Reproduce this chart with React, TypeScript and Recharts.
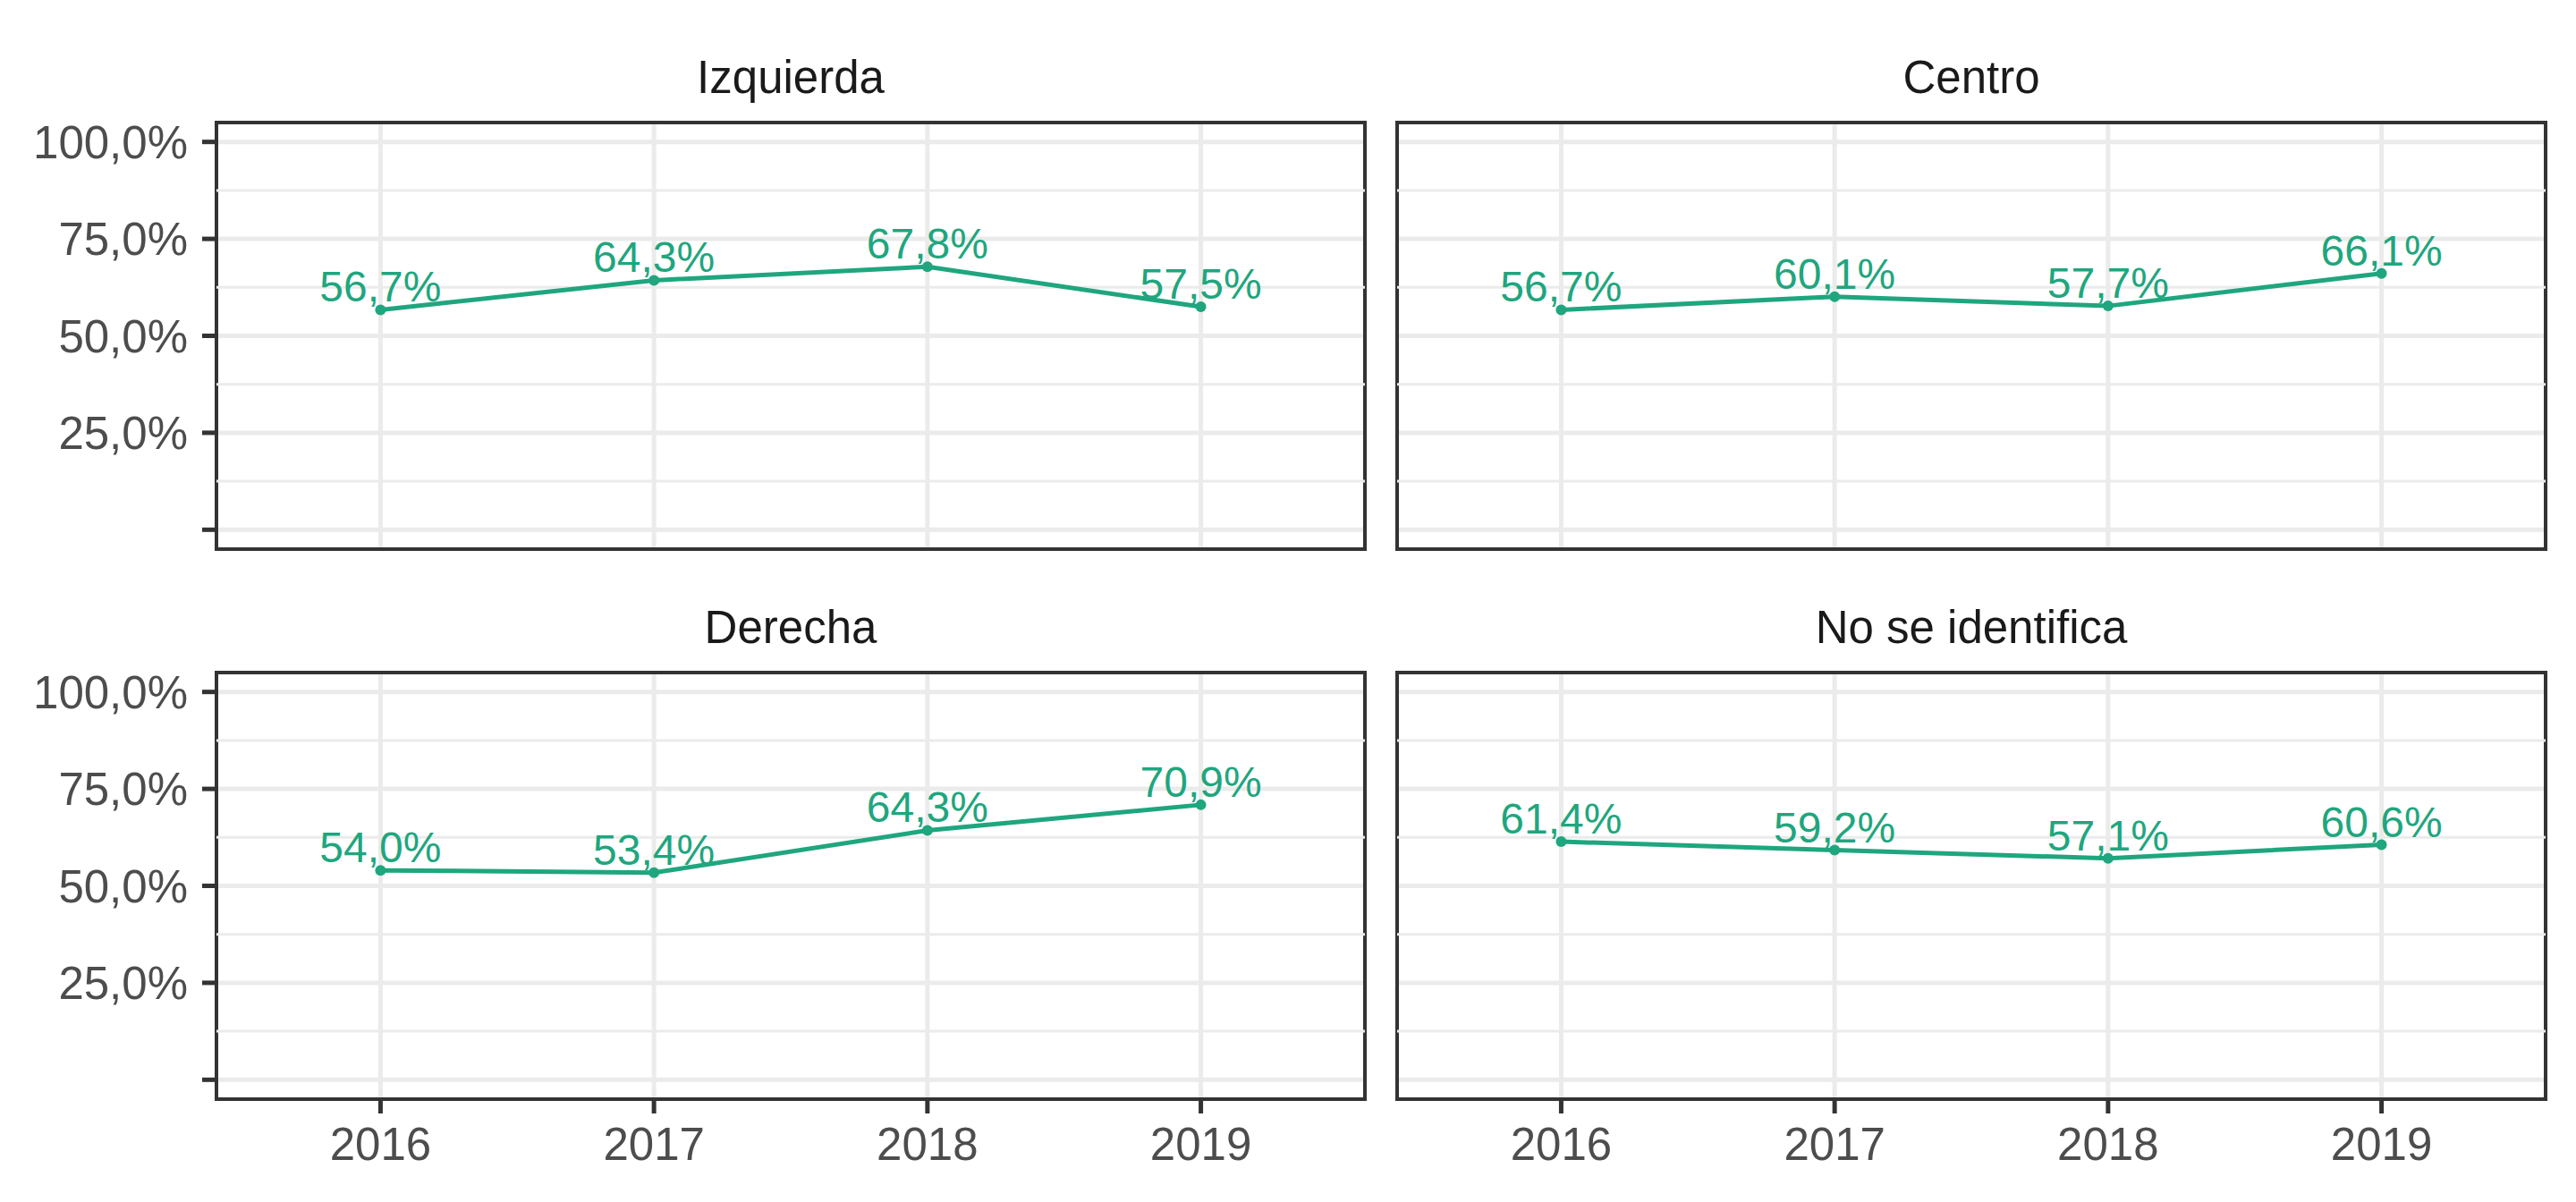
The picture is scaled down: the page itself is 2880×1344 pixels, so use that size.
import React from 'react';
import { LineChart, Line, XAxis, YAxis, CartesianGrid, ReferenceLine, ReferenceArea, LabelList } from 'recharts';

// Datos por panel (porcentaje por año)
const YEARS = [2016, 2017, 2018, 2019];
const IZQUIERDA = [56.7, 64.3, 67.8, 57.5];
const CENTRO = [56.7, 60.1, 57.7, 66.1];
const DERECHA = [54.0, 53.4, 64.3, 70.9];
const NO_SE_IDENTIFICA = [61.4, 59.2, 57.1, 60.6];

const Y_TICKS = [0, 25, 50, 75, 100];
const Y_MINOR = [12.5, 37.5, 62.5, 87.5];

const GREEN = '#1FA67E';
const GRID = '#EBEBEB';
const DARK = '#333333';
const FONT = '"Liberation Sans", Arial, sans-serif';

const PANEL_W = 1284;
const PANEL_H = 477;
const PAD_L = 240;
const PAD_T = 20;
const PAD_R = 20;
const PAD_B = 100;

const fmtPct = (v: number) => `${v.toFixed(1).replace('.', ',')}%`;

interface PanelProps {
  title: string;
  values: number[];
  left: number;
  top: number;
  showX: boolean;
  showY: boolean;
}

const Panel: React.FC<PanelProps> = ({ title, values, left, top, showX, showY }) => {
  const data = YEARS.map((year, i) => ({ year, value: values[i] }));

  return (
    <>
      <div
        style={{
          position: 'absolute',
          left,
          top: top - 76,
          width: PANEL_W,
          textAlign: 'center',
          fontFamily: FONT,
          fontSize: 51,
          lineHeight: '51px',
          color: '#1A1A1A',
        }}
      >
        {title}
      </div>
      <div style={{ position: 'absolute', left: left - PAD_L, top: top - PAD_T }}>
        <LineChart
          width={PANEL_W + PAD_L + PAD_R}
          height={PANEL_H + PAD_T + PAD_B}
          data={data}
          margin={{ top: PAD_T, right: PAD_R, left: showY ? 0 : PAD_L, bottom: showX ? 0 : PAD_B }}
        >
          <CartesianGrid
            stroke={GRID}
            strokeWidth={5}
            horizontalValues={Y_TICKS}
            verticalValues={YEARS}
          />
          {Y_MINOR.map((y) => (
            <ReferenceLine key={y} y={y} stroke={GRID} strokeWidth={3} />
          ))}
          <XAxis
            dataKey="year"
            type="number"
            domain={[2015.4, 2019.6]}
            ticks={YEARS}
            allowDataOverflow
            hide={!showX}
            height={PAD_B}
            axisLine={false}
            tickLine={{ stroke: DARK, strokeWidth: 5 }}
            tickSize={16}
            tickMargin={16}
            tick={{ fill: '#4D4D4D', fontSize: 51, fontFamily: FONT }}
          />
          <YAxis
            type="number"
            domain={[-5, 105]}
            ticks={Y_TICKS}
            allowDataOverflow
            hide={!showY}
            width={PAD_L}
            axisLine={false}
            tickLine={{ stroke: DARK, strokeWidth: 5 }}
            tickSize={16}
            tickMargin={16}
            tickFormatter={(v: number) => (v === 0 ? '' : fmtPct(v))}
            tick={{ fill: '#4D4D4D', fontSize: 51, fontFamily: FONT }}
          />
          <ReferenceArea
            x1={2015.4}
            x2={2019.6}
            y1={-5}
            y2={105}
            fill="none"
            fillOpacity={0}
            stroke={DARK}
            strokeWidth={4}
          />
          <Line
            dataKey="value"
            stroke={GREEN}
            strokeWidth={5}
            dot={{ r: 6, fill: GREEN, stroke: 'none' }}
            activeDot={false}
            isAnimationActive={false}
          >
            <LabelList
              dataKey="value"
              position="top"
              offset={9}
              formatter={(v: number) => fmtPct(v)}
              fill={GREEN}
              fontSize={48}
              fontFamily={FONT}
            />
          </Line>
        </LineChart>
      </div>
    </>
  );
};

const App: React.FC = () => {
  return (
    <div style={{ position: 'absolute', left: 0, top: 0, width: 2880, height: 1344, background: '#fff' }}>
      <Panel title="Izquierda" values={IZQUIERDA} left={242} top={137} showX={false} showY={true} />
      <Panel title="Centro" values={CENTRO} left={1562} top={137} showX={false} showY={false} />
      <Panel title="Derecha" values={DERECHA} left={242} top={752} showX={true} showY={true} />
      <Panel title="No se identifica" values={NO_SE_IDENTIFICA} left={1562} top={752} showX={true} showY={false} />
    </div>
  );
};

export default App;
